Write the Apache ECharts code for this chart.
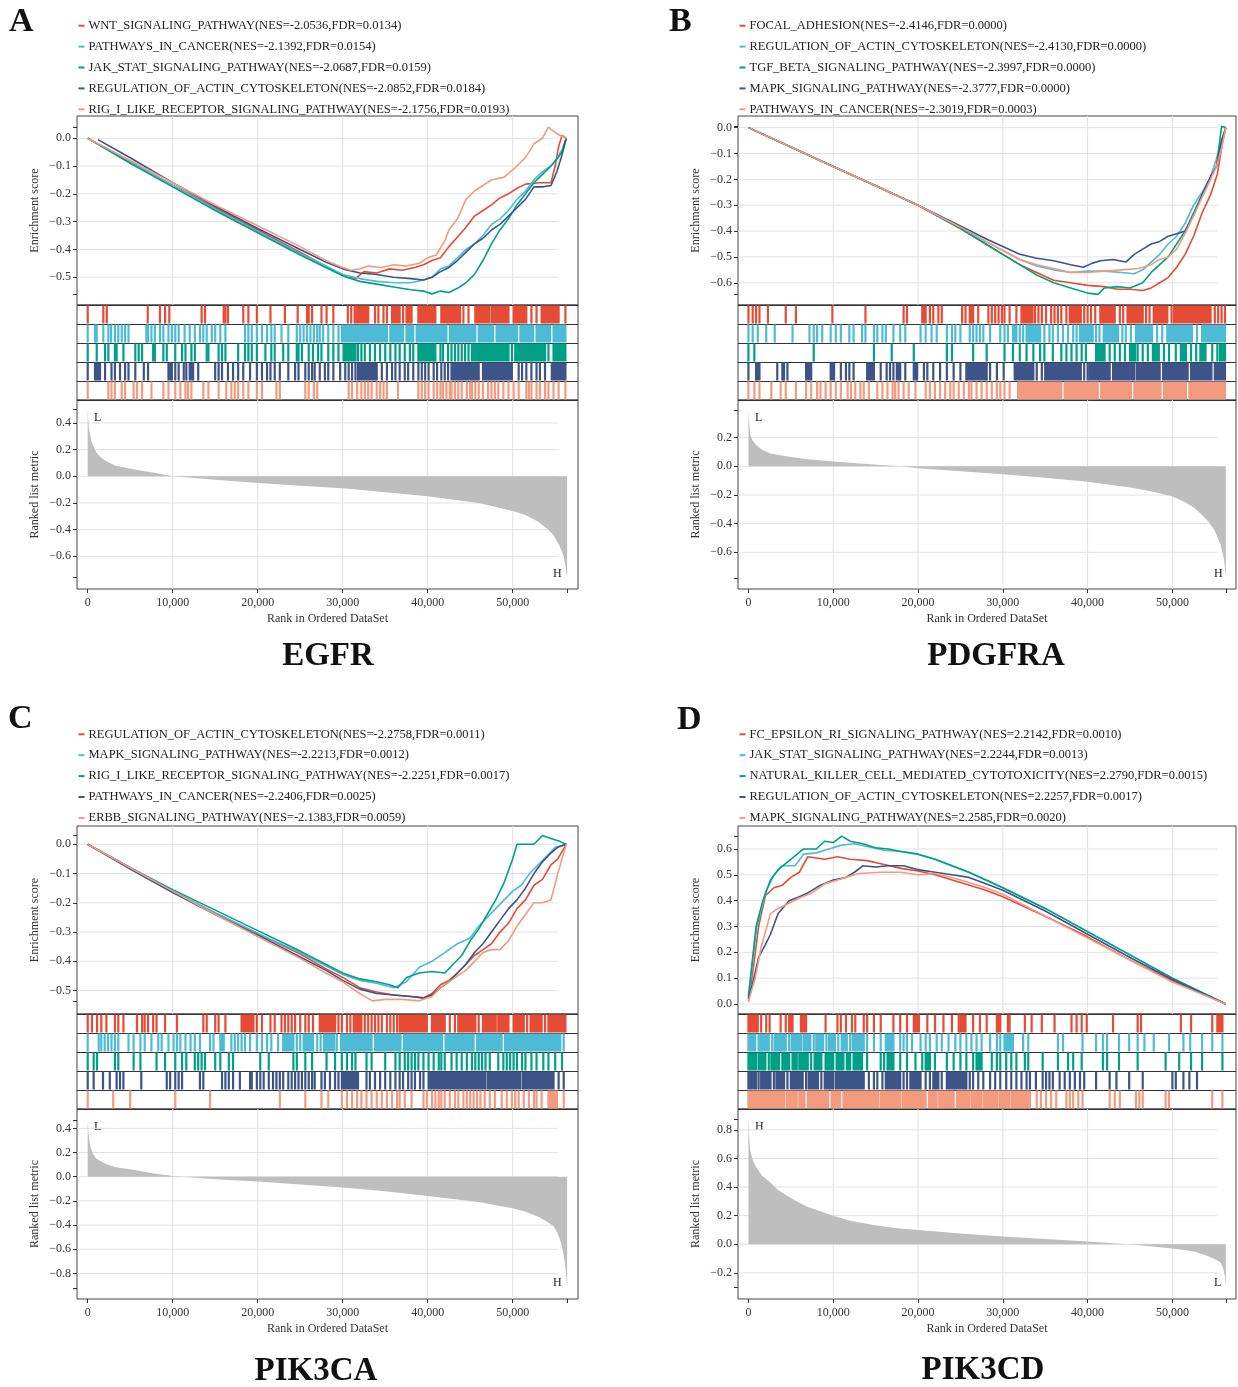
<!DOCTYPE html>
<html>
<head>
<meta charset="utf-8">
<script src="https://cdn.jsdelivr.net/npm/echarts@6.0.0/dist/echarts.min.js"></script>
<style>
html, body { margin: 0; padding: 0; background: #fff; }
#chart { width: 1238px; height: 1387px; }
</style>
</head>
<body>
<div id="chart"></div>
<script>
var colors = ['#E64B35', '#4DBBD5', '#00A087', '#3C5488', '#F39B7F'];
var FONT = 'Liberation Serif';

// shared rank axis
var rankTicks = [0, 10000, 20000, 30000, 40000, 50000];
var lastRank = 56400;
var gridLineEnd = 55300;

// ---------- A : EGFR ----------
var setsA = [
    'WNT_SIGNALING_PATHWAY(NES=-2.0536,FDR=0.0134)',
    'PATHWAYS_IN_CANCER(NES=-2.1392,FDR=0.0154)',
    'JAK_STAT_SIGNALING_PATHWAY(NES=-2.0687,FDR=0.0159)',
    'REGULATION_OF_ACTIN_CYTOSKELETON(NES=-2.0852,FDR=0.0184)',
    'RIG_I_LIKE_RECEPTOR_SIGNALING_PATHWAY(NES=-2.1756,FDR=0.0193)'
];
// running enrichment score, [rank in thousands, ES]
var esA = [
    [[0,0],[5,-0.085],[10,-0.17],[15,-0.25],[20,-0.33],[25,-0.41],[28,-0.46],[30.5,-0.5],[31.5,-0.505],[32.5,-0.48],[34,-0.485],[35.5,-0.47],[37,-0.475],[38.5,-0.465],[39.5,-0.455],[40.5,-0.44],[41.5,-0.43],[42.5,-0.39],[43.5,-0.355],[44.5,-0.32],[45.5,-0.28],[46.5,-0.26],[47.5,-0.24],[48.5,-0.215],[49.5,-0.2],[50.5,-0.18],[51.5,-0.165],[53,-0.16],[54.5,-0.16],[55,-0.1],[55.4,-0.03],[55.8,0.01],[56.3,0]],
    [[0,0],[5,-0.085],[10,-0.17],[15,-0.255],[20,-0.335],[25,-0.415],[28,-0.46],[30,-0.49],[32,-0.505],[34,-0.515],[36,-0.52],[38,-0.52],[39.5,-0.51],[40.5,-0.5],[41.5,-0.47],[42.5,-0.46],[43.5,-0.43],[44.5,-0.4],[45.5,-0.38],[46.5,-0.35],[47.5,-0.31],[48.5,-0.29],[49.5,-0.26],[50.5,-0.22],[51.5,-0.19],[52.5,-0.15],[53.5,-0.12],[54.5,-0.1],[55.3,-0.07],[55.8,-0.04],[56.3,0]],
    [[0,0],[5,-0.09],[10,-0.175],[15,-0.26],[20,-0.34],[25,-0.42],[28,-0.465],[30,-0.495],[32,-0.515],[34,-0.525],[36,-0.535],[38,-0.545],[39.5,-0.55],[40.5,-0.56],[41.5,-0.55],[42.5,-0.555],[43.5,-0.54],[44.5,-0.52],[45.5,-0.49],[46.5,-0.44],[47.5,-0.38],[48.5,-0.33],[49.5,-0.29],[50.5,-0.24],[51.5,-0.2],[52.5,-0.16],[53.5,-0.13],[54.5,-0.1],[55.3,-0.07],[55.8,-0.05],[56.3,0]],
    [[1.2,-0.005],[5,-0.07],[10,-0.16],[15,-0.245],[20,-0.325],[25,-0.4],[28,-0.445],[30,-0.47],[32,-0.485],[34,-0.49],[36,-0.5],[38,-0.505],[39.5,-0.51],[40.5,-0.5],[41.5,-0.48],[42.5,-0.465],[43.5,-0.44],[44.5,-0.41],[45.5,-0.38],[46.5,-0.36],[47.5,-0.33],[48.5,-0.31],[49.5,-0.28],[50.5,-0.25],[51.5,-0.22],[52.5,-0.175],[53.5,-0.175],[54.5,-0.17],[55.2,-0.12],[55.8,-0.06],[56.3,0]],
    [[0,0],[5,-0.08],[10,-0.16],[15,-0.24],[20,-0.315],[25,-0.39],[28,-0.44],[30,-0.465],[31,-0.475],[32,-0.47],[33,-0.46],[34.5,-0.465],[36,-0.455],[37.5,-0.46],[39,-0.45],[40,-0.43],[41,-0.42],[42,-0.37],[42.5,-0.33],[43.5,-0.29],[44.5,-0.22],[45.5,-0.19],[46.5,-0.17],[47.5,-0.15],[49,-0.14],[50.5,-0.1],[51.5,-0.07],[52.5,-0.02],[53.5,0],[54.2,0.04],[55,0.02],[55.6,0.01],[56.3,0]]
];
// gene set hits (thousands), [a, b] = dense run of hits
var hitsA = [
    [0,1.84,2.24,7.06,8.5,9.1,9.6,13.4,13.8,16,16.2,16.5,18.3,18.9,19.9,21.5,23.2,24.7,25.8,26,26.4,27.5,28.1,28.9,30.6,31,31.4,[31.6,33],33.8,34.2,34.8,35.2,[35.8,36.7],37.1,[37.5,37.9],38.1,[38.9,40.9],[41.6,43.6],43.8,44.2,44.8,[45.6,47.2],[47.5,49.5],[50.1,51.6],52.2,52.8,[53.4,55.4],56.2],
    [0,0.86,1.06,1.84,2.43,2.75,3.2,3.6,4,4.4,4.8,6.9,7.1,7.5,7.9,8.5,8.9,9.5,9.9,10.3,10.7,11.4,12,12.6,13.2,13.6,14,14.6,15,15.6,16.2,18.5,18.9,19.3,19.9,20.5,21.1,21.6,22,22.8,23.6,24.6,25,25.4,25.8,26.2,26.6,27,27.3,27.7,28.3,28.9,29.5,29.9,[30.1,35.2],[35.6,37.1],[37.5,38.3],[38.7,42.2],[42.6,45.6],[46,47.7],[48.1,50.5],[50.9,52.4],[52.8,54.4],[54.8,56.2]],
    [0,1.06,2.04,2.43,3.2,3.4,4.2,5.6,6,6.4,7.7,7.9,8.9,9.3,10.3,11.1,11.5,12.2,12.6,14,14.2,15.4,15.8,16.2,17.7,18.5,18.9,19.3,19.9,20.9,21.6,22,23,23.6,24.6,24.8,25.2,26,26.5,27.1,27.5,28.3,28.9,29.5,[30.1,31.5],31.8,32.2,32.6,33.2,33.8,34.4,35,35.6,36.2,36.7,37.3,37.9,38.3,[38.9,40.9],41.5,41.8,42.4,42.8,43.2,43.6,44,44.4,44.8,[45.2,49.5],49.9,[50.3,53.8],54.2,[54.8,56.2]],
    [0,[0.86,1.45],2.04,2.8,3.2,3.8,4.4,4.8,5.6,6.6,7.1,[9.5,9.9],10.3,10.7,11.3,11.6,[12,12.4],13,15,15.4,15.8,16.5,17.1,17.7,18.3,19.1,19.9,20.5,21.1,21.5,22,22.6,23.6,24.4,24.8,25.6,26,26.4,26.7,27.3,27.9,28.3,28.9,29.7,30.3,30.7,31.1,31.5,[31.8,33.8],34,34.6,35.2,35.8,36.2,36.7,37.3,37.7,38.3,38.9,39.3,39.7,40.1,40.7,41.1,41.6,42,42.4,[42.8,46],[46.5,49.9],50.7,51.1,51.6,52.2,52.8,53.2,53.8,[54.6,56.2]],
    [0,2.43,2.8,3.2,4,4.4,5.4,5.8,6.4,7.5,8.9,9.5,10.3,10.9,11.5,11.8,12.2,13.6,14.2,15.4,16.3,16.9,17.3,17.7,18.3,18.9,19.9,20.5,22.2,22.6,25.6,26,26.6,27,30.7,31.1,31.7,32.2,32.6,33,33.4,34,34.4,34.8,35.2,36.5,38.9,39.3,39.7,40.1,40.7,41.1,41.5,41.8,42.2,42.6,42.8,43.2,43.6,44,44.6,45,45.2,45.6,46,46.5,47.1,47.5,47.9,48.3,48.9,49.5,50.1,50.7,51.6,51.9,52.2,52.8,53.2,53.8,54.2,54.8,55.4,56.2]
];
var metricA = [[0,0.5],[0.15,0.35],[0.5,0.25],[1,0.18],[1.4,0.15],[2,0.12],[3.2,0.08],[5.5,0.05],[8,0.025],[10,0],[15,-0.025],[20,-0.05],[25,-0.07],[30,-0.09],[35,-0.12],[40,-0.15],[43,-0.175],[46,-0.2],[48,-0.23],[50,-0.26],[51.5,-0.29],[53,-0.34],[54,-0.39],[54.8,-0.44],[55.5,-0.52],[56,-0.6],[56.2,-0.67],[56.4,-0.76]];
var esTicksA = [-0.5, -0.4, -0.3, -0.2, -0.1, 0];
var metricTicksA = [-0.6, -0.4, -0.2, 0, 0.2, 0.4];

// ---------- B : PDGFRA ----------
var setsB = [
    'FOCAL_ADHESION(NES=-2.4146,FDR=0.0000)',
    'REGULATION_OF_ACTIN_CYTOSKELETON(NES=-2.4130,FDR=0.0000)',
    'TGF_BETA_SIGNALING_PATHWAY(NES=-2.3997,FDR=0.0000)',
    'MAPK_SIGNALING_PATHWAY(NES=-2.3777,FDR=0.0000)',
    'PATHWAYS_IN_CANCER(NES=-2.3019,FDR=0.0003)'
];
var esB = [
    [[0,0],[5,-0.075],[10,-0.15],[15,-0.225],[20,-0.3],[25,-0.39],[28,-0.45],[30,-0.49],[32,-0.53],[34,-0.56],[36,-0.59],[38,-0.6],[40,-0.61],[42,-0.615],[43.5,-0.625],[45,-0.625],[46.5,-0.63],[47.5,-0.62],[48.5,-0.6],[49.5,-0.58],[50.5,-0.54],[51.5,-0.49],[52.5,-0.42],[53.5,-0.33],[54.5,-0.26],[55.3,-0.18],[55.9,-0.06],[56.3,0]],
    [[0,0],[5,-0.075],[10,-0.15],[15,-0.225],[20,-0.3],[25,-0.385],[28,-0.44],[30,-0.475],[32,-0.51],[34,-0.535],[36,-0.55],[38,-0.56],[40,-0.555],[42,-0.555],[44,-0.56],[45.5,-0.565],[46.5,-0.55],[47.5,-0.52],[48.5,-0.49],[49.5,-0.45],[50.5,-0.42],[51.5,-0.37],[52.5,-0.3],[53.5,-0.25],[54.5,-0.19],[55.2,-0.12],[55.8,-0.05],[56.3,0]],
    [[0,0],[5,-0.075],[10,-0.15],[15,-0.225],[20,-0.3],[25,-0.39],[28,-0.45],[30,-0.49],[32,-0.53],[34,-0.57],[36,-0.6],[38,-0.62],[40,-0.64],[41.2,-0.645],[42,-0.62],[43.5,-0.615],[45,-0.62],[46.5,-0.6],[47.5,-0.56],[48.5,-0.53],[49.5,-0.5],[50.5,-0.45],[51.5,-0.4],[52.5,-0.33],[53.5,-0.26],[54.5,-0.19],[55.2,-0.15],[55.8,0.005],[56.3,0]],
    [[0,0],[5,-0.075],[10,-0.15],[15,-0.225],[20,-0.3],[25,-0.38],[28,-0.43],[30,-0.46],[32,-0.49],[34,-0.505],[36,-0.515],[38,-0.53],[39.5,-0.54],[40.5,-0.525],[41.5,-0.515],[43,-0.51],[44.5,-0.52],[45.5,-0.49],[46.5,-0.47],[47.5,-0.45],[48.5,-0.44],[49.5,-0.42],[50.5,-0.41],[51.5,-0.4],[52.5,-0.34],[53.5,-0.26],[54.5,-0.19],[55.2,-0.15],[55.8,-0.05],[56.3,0]],
    [[0,0],[5,-0.075],[10,-0.15],[15,-0.225],[20,-0.3],[25,-0.385],[28,-0.44],[30,-0.475],[32,-0.51],[34,-0.53],[36,-0.545],[38,-0.56],[40,-0.56],[42,-0.555],[44,-0.55],[46,-0.545],[47.5,-0.53],[48.5,-0.51],[49.5,-0.5],[50.5,-0.47],[51.5,-0.41],[52.5,-0.34],[53.5,-0.27],[54.5,-0.2],[55.2,-0.15],[55.8,-0.08],[56.3,0]]
];
var hitsB = [
    [0,0.5,0.9,1.3,2.3,4.4,5.6,9.9,13.8,18.3,18.7,[20.5,20.9],21.4,21.8,22.4,22.8,25.2,25.6,[26.1,26.5],27.1,28.3,28.7,29.1,29.5,29.9,30.2,30.8,31.6,[32.2,33.5],33.8,34.2,34.6,35.1,35.7,36.1,36.5,36.9,37.5,[37.9,39.2],39.6,40,40.4,40.9,[41.5,43.2],43.8,44.2,[44.7,46.5],46.9,47.3,[47.8,49.4],49.9,[50.2,54.5],55,55.4,55.8,56.2],
    [0,0.5,1.1,2.1,3.1,5.2,7.2,7.7,8.1,8.7,9.7,10.3,10.9,11.9,12.4,13.4,13.8,14.8,15.2,15.8,16.2,17.1,17.9,18.5,20.3,20.9,21.6,22.2,23.4,24,24.4,25,26.1,26.5,26.9,27.3,27.7,28.5,29.7,30.2,30.6,[31.2,31.6],32,32.4,[32.8,34.4],34.9,35.5,35.9,36.5,37.1,37.7,38.3,38.7,[39.1,40.6],41,41.4,[41.9,43.6],44.1,44.5,45.1,[45.7,47.6],48.2,48.8,[49.4,52.3],52.9,[53.5,56.2]],
    [0,0.7,7.7,14.8,16.9,19.5,23.4,24,26.5,28.1,30.2,31.2,32,32.8,33.6,34.4,34.9,35.9,36.9,37.5,38.1,38.7,39.3,39.8,[41,42],42.6,43.2,43.8,44.4,[45,45.6],45.9,46.5,47.1,[47.7,48.4],49,49.6,50.4,[51,51.6],52.2,52.8,[53.3,53.9],54.7,55.3,[55.6,56.2]],
    [0,0.9,[1.1,1.3],3.4,4,4.2,4.6,[6.8,7.4],[9.7,10.1],10.9,11.5,11.9,12.4,[14,14.8],15.6,16.3,16.7,17.1,[17.5,17.9],18.5,[19.5,19.9],20.7,21.1,21.8,22.6,23.4,24.2,25,[25.7,28.1],28.5,29.3,30.1,[31.4,33.6],34,34.6,[35,39.2],39.6,40,[40.2,42.6],[43,45.5],[45.8,48.5],[48.9,51.8],[52.2,54.6],[55,56.2]],
    [0,0.7,1.3,2.7,3.8,4.4,5.6,6.8,7.4,8.1,8.5,9.1,9.7,10.3,10.9,11.7,12.1,12.6,13.2,13.6,14.2,15.2,15.8,16.4,17,17.3,17.7,18.3,18.9,19.7,20.9,21.4,22,22.6,23.2,23.8,24.2,24.8,25.4,26,26.3,26.9,27.5,28.1,28.7,29.3,29.7,30.2,30.8,[31.8,36.9],[37.3,41.2],[41.6,45.1],[45.5,48.6],[49,51.6],[52,56.2]]
];
var metricB = [[0,0.39],[0.1,0.3],[0.2,0.22],[0.5,0.18],[0.9,0.15],[1.5,0.12],[2.6,0.09],[4.8,0.067],[7,0.05],[10,0.033],[15.6,0.01],[18,0],[20,-0.014],[25,-0.035],[30,-0.056],[35,-0.08],[40,-0.107],[45.2,-0.15],[48,-0.18],[50,-0.21],[51.5,-0.25],[52.6,-0.29],[53.5,-0.34],[54.3,-0.39],[55,-0.45],[55.7,-0.55],[56.1,-0.65],[56.3,-0.78]];
var esTicksB = [-0.6, -0.5, -0.4, -0.3, -0.2, -0.1, 0];
var metricTicksB = [-0.6, -0.4, -0.2, 0, 0.2];

// ---------- C : PIK3CA ----------
var setsC = [
    'REGULATION_OF_ACTIN_CYTOSKELETON(NES=-2.2758,FDR=0.0011)',
    'MAPK_SIGNALING_PATHWAY(NES=-2.2213,FDR=0.0012)',
    'RIG_I_LIKE_RECEPTOR_SIGNALING_PATHWAY(NES=-2.2251,FDR=0.0017)',
    'PATHWAYS_IN_CANCER(NES=-2.2406,FDR=0.0025)',
    'ERBB_SIGNALING_PATHWAY(NES=-2.1383,FDR=0.0059)'
];
var esC = [
    [[0,0],[5,-0.08],[10,-0.16],[15,-0.235],[20,-0.305],[25,-0.375],[28,-0.425],[30,-0.455],[32,-0.49],[34,-0.505],[36,-0.515],[38,-0.52],[39.5,-0.525],[40.5,-0.51],[41.5,-0.48],[42.5,-0.465],[43.5,-0.44],[44.5,-0.41],[45.5,-0.38],[46.5,-0.36],[47.5,-0.34],[48.5,-0.3],[49.5,-0.27],[50.5,-0.22],[51.5,-0.19],[52.5,-0.14],[53.5,-0.12],[54.5,-0.07],[55.3,-0.05],[56.3,0]],
    [[0,0],[5,-0.08],[10,-0.16],[15,-0.235],[20,-0.305],[25,-0.37],[28,-0.415],[30,-0.445],[32,-0.465],[34,-0.475],[36,-0.49],[37.5,-0.47],[39,-0.42],[40.5,-0.4],[42,-0.37],[43.5,-0.34],[45,-0.32],[46,-0.28],[47,-0.25],[48,-0.22],[49,-0.19],[50,-0.16],[51,-0.14],[52,-0.1],[53,-0.07],[54,-0.04],[55,-0.01],[56.3,0]],
    [[0,0],[5,-0.08],[10,-0.155],[15,-0.225],[20,-0.295],[25,-0.365],[28,-0.41],[30,-0.44],[32,-0.46],[34,-0.47],[35.5,-0.48],[36.5,-0.49],[37.5,-0.455],[39,-0.44],[40.5,-0.435],[42,-0.44],[43,-0.41],[44,-0.38],[45,-0.33],[46,-0.29],[47,-0.24],[48,-0.19],[49,-0.13],[50,-0.05],[50.5,0],[52.5,0],[53.5,0.03],[54.5,0.02],[55.5,0.01],[56.3,0]],
    [[0,0],[5,-0.085],[10,-0.165],[15,-0.24],[20,-0.31],[25,-0.385],[28,-0.43],[30,-0.465],[32,-0.495],[34,-0.51],[36,-0.515],[38,-0.52],[39.5,-0.525],[40.5,-0.515],[41.5,-0.49],[42.5,-0.47],[43.5,-0.44],[44.5,-0.41],[45.5,-0.37],[46.5,-0.34],[47.5,-0.3],[48.5,-0.26],[49.5,-0.22],[50.5,-0.19],[51.5,-0.15],[52.5,-0.1],[53.5,-0.06],[54.5,-0.03],[55.3,-0.01],[56.3,0]],
    [[0,0],[5,-0.08],[10,-0.16],[15,-0.24],[20,-0.315],[25,-0.39],[28,-0.44],[30,-0.47],[32,-0.51],[33.5,-0.535],[35,-0.53],[37,-0.53],[39,-0.535],[40.5,-0.52],[41.5,-0.49],[42.5,-0.47],[43.5,-0.45],[44.5,-0.43],[45.5,-0.4],[46.5,-0.37],[47.5,-0.36],[48.5,-0.36],[49.5,-0.33],[50.5,-0.28],[51.5,-0.24],[52.5,-0.2],[53.5,-0.2],[54.5,-0.19],[55.3,-0.1],[56.3,0]]
];
var hitsC = [
    [0,0.5,1.1,1.6,2.2,3.2,3.6,4.2,5.8,6.4,6.7,7.1,7.7,8.1,9.1,10.5,13.6,14,15,15.4,16.2,[18.1,19.5],19.9,20.5,21.5,22,22.8,23.2,23.6,24,24.4,25,25.6,26,26.5,[27.3,29.1],29.5,29.9,30.5,30.9,[31.3,32.2],32.6,33,33.4,33.8,34.2,34.6,35.2,35.6,36,36.4,[36.7,39.9],[40.5,42],42.6,43.2,[43.6,45.6],46,[46.5,48],[48.3,49.5],[50.1,51.3],51.7,[52.1,53.4],53.8,[54.2,56.2]],
    [0,1.3,1.6,2,2.4,2.8,3.2,3.6,4.8,5.4,6.2,6.7,7.5,8.3,8.7,9.5,10.1,10.5,10.9,11.5,12.1,12.6,13.2,14.4,14.8,[15.6,16],16.9,17.3,17.7,18.1,18.5,19.1,19.9,20.5,21.1,21.6,22.4,[23,24.2],24.6,25,[25.4,26.5],27,27.4,[27.8,29],29.3,[29.8,33.4],[33.8,36.8],[37.2,41.7],[42.1,45.4],[45.8,48.7],[49.1,55.6],56],
    [0,0.7,1.1,3.2,3.6,5.4,6.2,8.1,9.1,10.3,11.1,11.6,12.6,13,13.4,13.8,15,15.6,16.6,17.1,20.3,21.3,24.2,24.6,25.6,26.4,28.1,29.1,29.9,30.5,31.1,31.5,32.8,33.4,35,36.2,36.7,37.3,37.7,38.1,38.5,38.9,39.5,40.1,40.7,41.3,41.6,42,42.8,43.4,44,44.6,45.2,45.6,46,46.4,46.8,47.3,48.3,48.9,49.3,49.7,50.1,50.5,51.1,51.5,52.2,52.8,53.6,54.2,55,55.8],
    [0,0.7,1.8,2.6,3.4,3.8,4.2,6.3,9.3,9.7,10.3,10.7,11.1,13.2,13.6,15.8,16.2,16.6,17.1,17.9,19.1,19.3,19.9,20.3,20.7,21.3,21.8,22.2,22.6,23,23.6,24,24.4,24.8,25.2,25.6,26,26.4,26.7,27.5,27.9,28.5,29.1,29.5,[29.9,31.8],32.8,33.2,33.8,34.4,35,35.6,36.2,36.7,37.1,37.7,38.1,38.5,39.1,39.5,[40.1,46.8],[47.1,50.9],[51.2,54.8],55.4,56],
    [0,3,5,10.3,14.4,22.6,25.6,27.5,28.3,29.9,30.5,31.1,31.7,32.2,32.8,33.4,34,34.6,35.2,35.8,36.4,36.7,37.3,38.1,39.5,39.9,40.5,40.9,41.3,41.6,42,42.6,43.2,43.6,44.2,44.6,45,45.4,45.8,46.2,46.7,47.3,47.9,48.7,49.3,49.9,50.3,50.7,51.3,51.9,52.5,52.8,53.4,[54.2,55.2],56]
];
var metricC = [[0,0.47],[0.1,0.35],[0.3,0.25],[0.6,0.19],[1,0.15],[2,0.11],[3.2,0.08],[5.5,0.055],[8,0.025],[10,0.005],[15,-0.02],[20,-0.04],[25,-0.065],[30,-0.09],[35,-0.12],[40,-0.16],[43,-0.185],[46.2,-0.21],[48,-0.235],[50,-0.26],[51.5,-0.29],[53,-0.33],[54,-0.37],[54.8,-0.41],[55.3,-0.47],[55.7,-0.55],[56,-0.65],[56.2,-0.75],[56.4,-0.92]];
var esTicksC = [-0.5, -0.4, -0.3, -0.2, -0.1, 0];
var metricTicksC = [-0.8, -0.6, -0.4, -0.2, 0, 0.2, 0.4];

// ---------- D : PIK3CD ----------
var setsD = [
    'FC_EPSILON_RI_SIGNALING_PATHWAY(NES=2.2142,FDR=0.0010)',
    'JAK_STAT_SIGNALING_PATHWAY(NES=2.2244,FDR=0.0013)',
    'NATURAL_KILLER_CELL_MEDIATED_CYTOTOXICITY(NES=2.2790,FDR=0.0015)',
    'REGULATION_OF_ACTIN_CYTOSKELETON(NES=2.2257,FDR=0.0017)',
    'MAPK_SIGNALING_PATHWAY(NES=2.2585,FDR=0.0020)'
];
var esD = [
    [[0,0.01],[0.5,0.12],[1.2,0.3],[2,0.42],[3,0.45],[4,0.46],[5,0.49],[6,0.51],[7,0.57],[8,0.565],[9,0.56],[10.5,0.57],[12,0.56],[14,0.555],[16,0.54],[18,0.525],[20,0.515],[22,0.5],[25,0.47],[28,0.44],[30,0.415],[35,0.34],[40,0.26],[45,0.17],[50,0.09],[56.3,0]],
    [[0,0.02],[0.5,0.17],[1,0.3],[2,0.43],[3,0.5],[4,0.535],[5.5,0.535],[6.5,0.58],[8,0.585],[9.5,0.6],[11,0.615],[12.5,0.62],[14,0.61],[16,0.595],[18,0.59],[20,0.58],[22,0.56],[24,0.535],[26,0.51],[28,0.48],[30,0.45],[35,0.37],[40,0.28],[45,0.19],[50,0.1],[56.3,0]],
    [[0,0.03],[0.4,0.15],[0.9,0.3],[1.7,0.4],[2.6,0.48],[3.5,0.52],[5,0.56],[6.5,0.6],[8,0.6],[9,0.63],[10,0.625],[11,0.65],[12,0.63],[13.5,0.62],[15,0.605],[16.5,0.6],[18,0.59],[20,0.58],[22,0.56],[24,0.535],[26,0.51],[28,0.48],[30,0.45],[35,0.37],[40,0.28],[45,0.19],[50,0.1],[56.3,0]],
    [[0,0.02],[0.5,0.08],[1.2,0.18],[2,0.23],[2.6,0.27],[3.5,0.35],[4.8,0.4],[6,0.415],[7,0.43],[8.5,0.46],[10,0.48],[11.5,0.49],[12.5,0.51],[13.5,0.535],[15,0.53],[16.5,0.535],[18.3,0.535],[20,0.52],[22,0.51],[24,0.5],[26,0.49],[28,0.465],[30,0.44],[35,0.36],[40,0.27],[45,0.18],[50,0.095],[56.3,0]],
    [[0,0.01],[0.8,0.1],[1.5,0.22],[2.6,0.35],[3.5,0.37],[4.8,0.39],[6,0.41],[7.5,0.43],[9,0.465],[11,0.485],[13,0.505],[15.6,0.51],[18,0.51],[20,0.5],[22,0.505],[24,0.49],[26,0.47],[28,0.45],[30,0.425],[35,0.34],[40,0.255],[45,0.17],[50,0.085],[56.3,0]]
];
var hitsD = [
    [[0,1.1],1.5,2.1,2.5,3.8,4.4,[4.8,5.2],[6.2,6.8],9.1,10.5,10.9,11.5,12.2,12.6,13.6,14,14.8,15.6,17.1,17.9,18.7,[19.5,20.1],21.1,22,23,24,24.8,[25,25.6],26.5,27.3,28.1,29.3,[29.5,29.7],[30.6,30.8],32.6,33.4,34.6,36.1,38.1,38.7,39.3,39.9,43,45.9,46.3,51,52.2,54.7,[55.3,55.9]],
    [[0,0.8],1.2,[1.4,2.4],2.8,[3.1,4.4],4.8,[5.1,6.2],[6.5,7.3],7.7,[8,8.8],9.2,[9.5,10.2],10.6,[11,11.6],12,[12.3,13.6],14,14.8,15.6,[16.2,17.1],17.9,18.3,18.7,19.3,20.3,20.9,21.4,22.2,22.8,23.6,24.4,25,25.7,26.3,26.9,27.5,28.5,29.3,29.7,[30.2,31.2],32.4,33,36.5,37.1,39.4,41,41.8,42.3,43.7,44.9,45.9,46.7,47.8,49.6,51.3,52.1,53.5,54.7,55.9],
    [[0,0.9],[1.2,2],2.4,[2.7,3.6],[4,4.8],[5.2,5.7],[6,7],7.4,[7.8,8.6],[9.1,10],[10.4,11.2],[11.6,12],[12.4,13.4],14,15.6,16,[16.4,17.1],17.9,18.7,19.7,20.5,[20.9,21.4],22,23.4,24.2,25,25.7,26.5,[26.9,27.5],28.7,29.3,29.7,30.4,31,31.6,32.6,33,34.7,36.5,37.7,38.3,39.3,41.8,42.3,43.7,45.9,49.2,50.8,52.2,53.5,55.9],
    [[0,0.9],1.2,[1.5,2.6],3,[3.3,4.2],4.6,[5,6.4],6.8,[7.1,8.2],8.6,[9,10],[10.3,13.6],14.2,14.8,15.2,15.8,[16.2,17.9],18.3,18.7,[19.1,20.3],20.9,21.4,[21.8,22.4],22.8,[23.4,25.7],26.1,26.5,27.1,27.7,28.5,29.1,29.7,30.4,31,31.6,32.2,32.8,33.2,33.9,34.7,35.1,35.5,35.9,36.7,37.3,37.9,38.5,39.1,39.6,41,42.6,43.4,44.9,46.5,50,50.4,51.3,52,52.9],
    [[0,4.2],[4.5,5.7],[6,6.6],[7,9.4],[9.8,10.8],[11.2,15.3],[15.6,17.9],[18.2,20.9],[21.3,22.2],[22.5,24.2],[24.6,26],[26.3,27.5],[27.8,29.3],[29.6,30.8],[31.1,33.2],34,34.5,35.1,35.7,36.3,37.5,37.9,38.3,38.9,39.4,42.6,43.2,43.8,45.7,46.1,46.5,49.2,49.6,54.7,55.9]
];
var metricD = [[0,0.875],[0.1,0.75],[0.2,0.66],[0.5,0.59],[0.9,0.54],[1.6,0.48],[2.6,0.43],[3.5,0.38],[4.8,0.33],[6,0.29],[7,0.26],[8.5,0.23],[10,0.2],[12,0.165],[14.8,0.135],[17,0.115],[20,0.1],[25,0.075],[30,0.054],[35,0.036],[40,0.02],[44.8,0],[47,-0.012],[50,-0.03],[52.6,-0.05],[54.3,-0.085],[55.2,-0.11],[55.7,-0.13],[56,-0.17],[56.2,-0.23],[56.3,-0.3]];
var esTicksD = [0, 0.1, 0.2, 0.3, 0.4, 0.5, 0.6];
var metricTicksD = [-0.2, 0, 0.2, 0.4, 0.6, 0.8];

var genes = ['EGFR', 'PDGFRA', 'PIK3CA', 'PIK3CD'];
var letters = ['A', 'B', 'C', 'D'];
var metricEnds = [['L', 'H'], ['L', 'H'], ['L', 'H'], ['H', 'L']];

var panels = [
    { sets: setsA, es: esA, hits: hitsA, metric: metricA, esTicks: esTicksA, metricTicks: metricTicksA },
    { sets: setsB, es: esB, hits: hitsB, metric: metricB, esTicks: esTicksB, metricTicks: metricTicksB },
    { sets: setsC, es: esC, hits: hitsC, metric: metricC, esTicks: esTicksC, metricTicks: metricTicksC },
    { sets: setsD, es: esD, hits: hitsD, metric: metricD, esTicks: esTicksD, metricTicks: metricTicksD }
];

// page layout of the four panels
var boxes = [
    { left: 77, width: 501, top: 116, esH: 189, mH: 189, xMin: -1260, xMax: 57680, esRange: [-0.6, 0.08], mRange: [-0.845, 0.572], titleX: 328, titleY: 656, letterX: 9, letterY: 22, legendY: 25.7 },
    { left: 738, width: 498, top: 116, esH: 189, mH: 189, xMin: -1230, xMax: 57500, esRange: [-0.686, 0.045], mRange: [-0.856, 0.463], titleX: 996, titleY: 656, letterX: 669, letterY: 22, legendY: 25.7 },
    { left: 77, width: 501, top: 826, esH: 188, mH: 190, xMin: -1260, xMax: 57680, esRange: [-0.58, 0.0625], mRange: [-1.011, 0.56], titleX: 316, titleY: 1371, letterX: 8, letterY: 719, legendY: 734.3 },
    { left: 738, width: 498, top: 826, esH: 188, mH: 190, xMin: -1230, xMax: 57500, esRange: [-0.0387, 0.689], mRange: [-0.383, 0.946], titleX: 983, titleY: 1370, letterX: 677, letterY: 720, legendY: 734.3 }
];
var RUG_H = 95;

function fmtTick(v) {
    return (v < -1e-9 ? '\u2212' : '') + Math.abs(v).toFixed(1);
}
function fmtRank(v) {
    return Math.round(v).toLocaleString('en-US');
}
function extent(list) {
    var lo = Infinity, hi = -Infinity;
    list.forEach(function(p) { lo = Math.min(lo, p[1]); hi = Math.max(hi, p[1]); });
    return [lo, hi];
}

var textStyle = { fontFamily: FONT, fontSize: 12, color: '#333' };

var grid = [], xAxis = [], yAxis = [], series = [], graphic = [];

panels.forEach(function(p, i) {
    var b = boxes[i];
    var g = grid.length;
    var rugTop = b.top + b.esH, mTop = rugTop + RUG_H;

    [[b.top, b.esH], [rugTop, RUG_H], [mTop, b.mH]].forEach(function(r) {
        grid.push({ left: b.left, width: b.width, top: r[0], height: r[1], show: true, borderColor: '#444', borderWidth: 1 });
    });

    // x axes
    for (var k = 0; k < 3; k++) {
        var ax = { gridIndex: g + k, type: 'value', min: b.xMin, max: b.xMax, position: 'bottom',
            axisLine: { show: false, onZero: false }, axisTick: { show: false }, axisLabel: { show: false }, splitLine: { show: false } };
        if (k === 2) {
            ax.axisTick = { show: true, length: 4, lineStyle: { color: '#333' }, customValues: rankTicks.concat([lastRank]) };
            ax.axisLabel = { show: true, customValues: rankTicks, formatter: fmtRank, margin: 8,
                fontFamily: FONT, fontSize: 12, color: '#333' };
            ax.name = 'Rank in Ordered DataSet';
            ax.nameLocation = 'middle';
            ax.nameGap = 24;
            ax.nameTextStyle = textStyle;
        }
        xAxis.push(ax);
    }

    // y axes
    var allES = [];
    p.es.forEach(function(c) { allES = allES.concat(c); });
    var esExt = extent(allES), mExt = extent(p.metric);

    function valueAxis(gi, range, ticks, ext, name) {
        return { gridIndex: gi, type: 'value', min: range[0], max: range[1], position: 'left',
            axisLine: { show: false, onZero: false },
            axisTick: { show: true, length: 4, lineStyle: { color: '#333' }, customValues: ticks.concat(ext) },
            axisLabel: { show: true, customValues: ticks, formatter: fmtTick, margin: 6,
                fontFamily: FONT, fontSize: 12, color: '#333' },
            splitLine: { show: false },
            name: name, nameLocation: 'middle', nameGap: 36, nameRotate: 90, nameTextStyle: textStyle };
    }
    yAxis.push(valueAxis(g, b.esRange, p.esTicks, esExt, 'Enrichment score'));
    yAxis.push({ gridIndex: g + 1, type: 'value', min: 0, max: 5, interval: 1, inverse: true,
        axisLine: { show: false, onZero: false }, axisTick: { show: false }, axisLabel: { show: false },
        splitLine: { show: true, lineStyle: { color: '#333', width: 1 } } });
    yAxis.push(valueAxis(g + 2, b.mRange, p.metricTicks, mExt, 'Ranked list metric'));

    // light grid lines, horizontal ones stop at the end of the ranked list
    function gridLines(gi, range, ticks) {
        var data = ticks.map(function(v) { return [0, v]; })
            .concat(rankTicks.slice(1).map(function(x) { return [1, x]; }));
        return { type: 'custom', xAxisIndex: gi, yAxisIndex: gi, silent: true, z: 1, data: data,
            renderItem: function(params, api) {
                var kind = api.value(0), v = api.value(1), a, c;
                if (kind === 0) { a = api.coord([b.xMin, v]); c = api.coord([gridLineEnd, v]); }
                else { a = api.coord([v, range[0]]); c = api.coord([v, range[1]]); }
                return { type: 'line', shape: { x1: a[0], y1: a[1], x2: c[0], y2: c[1] },
                    style: { stroke: '#E2E2E2', lineWidth: 1 } };
            } };
    }
    series.push(gridLines(g, b.esRange, p.esTicks));
    series.push(gridLines(g + 2, b.mRange, p.metricTicks));

    // running enrichment score curves
    p.es.forEach(function(curve, j) {
        series.push({ type: 'line', name: p.sets[j], xAxisIndex: g, yAxisIndex: g,
            data: curve.map(function(pt) { return [pt[0] * 1000, pt[1]]; }),
            showSymbol: false, symbol: 'none', silent: true, z: 3,
            lineStyle: { color: colors[j], width: 1.6 }, itemStyle: { color: colors[j] } });
    });

    // hit barcodes
    var rug = [];
    p.hits.forEach(function(list, j) {
        list.forEach(function(h) {
            if (Array.isArray(h)) rug.push([h[0] * 1000, h[1] * 1000, j]);
            else rug.push([h * 1000, h * 1000, j]);
        });
    });
    series.push({ type: 'custom', xAxisIndex: g + 1, yAxisIndex: g + 1, silent: true, z: 2,
        encode: { x: [0, 1], y: 2 }, data: rug,
        renderItem: function(params, api) {
            var s = api.value(2);
            var p0 = api.coord([api.value(0), s]), p1 = api.coord([api.value(1), s + 1]);
            return { type: 'rect',
                shape: { x: p0[0] - 1.1, y: p0[1] + 0.5, width: p1[0] - p0[0] + 2.2, height: p1[1] - p0[1] - 1 },
                style: { fill: colors[s] } };
        } });

    // ranked list metric
    series.push({ type: 'line', xAxisIndex: g + 2, yAxisIndex: g + 2, silent: true, z: 2,
        data: p.metric.map(function(pt) { return [pt[0] * 1000, pt[1]]; }),
        showSymbol: false, symbol: 'none',
        lineStyle: { width: 0, color: '#BEBEBE' }, areaStyle: { color: '#BEBEBE', opacity: 1 } });

    // legend
    p.sets.forEach(function(name, j) {
        var y = b.legendY + j * 20.9;
        graphic.push({ type: 'rect', silent: true, shape: { x: b.left + 1.5, y: y - 1, width: 6, height: 2 }, style: { fill: colors[j] } });
        graphic.push({ type: 'text', silent: true, x: b.left + 11.5, y: y,
            style: { text: name, fill: '#222', fontFamily: FONT, fontSize: 12.5, verticalAlign: 'middle', align: 'left' } });
    });

    // L / H ends of the ranked list
    graphic.push({ type: 'text', silent: true, x: b.left + 17, y: mTop + 17.5,
        style: { text: metricEnds[i][0], fill: '#222', fontFamily: FONT, fontSize: 12, verticalAlign: 'middle' } });
    graphic.push({ type: 'text', silent: true, x: b.left + 476, y: mTop + 174,
        style: { text: metricEnds[i][1], fill: '#222', fontFamily: FONT, fontSize: 12, verticalAlign: 'middle' } });

    // panel letter and gene title
    graphic.push({ type: 'text', silent: true, x: b.letterX, y: b.letterY,
        style: { text: letters[i], fill: '#111', fontFamily: FONT, fontSize: 34, fontWeight: 'bold', verticalAlign: 'middle' } });
    graphic.push({ type: 'text', silent: true, x: b.titleX, y: b.titleY,
        style: { text: genes[i], fill: '#111', fontFamily: FONT, fontSize: 33, fontWeight: 'bold', align: 'center', verticalAlign: 'middle' } });
});

var myChart = echarts.init(document.getElementById('chart'));
myChart.setOption({
    animation: false,
    backgroundColor: '#fff',
    grid: grid,
    xAxis: xAxis,
    yAxis: yAxis,
    series: series,
    graphic: graphic
});
</script>
</body>
</html>
